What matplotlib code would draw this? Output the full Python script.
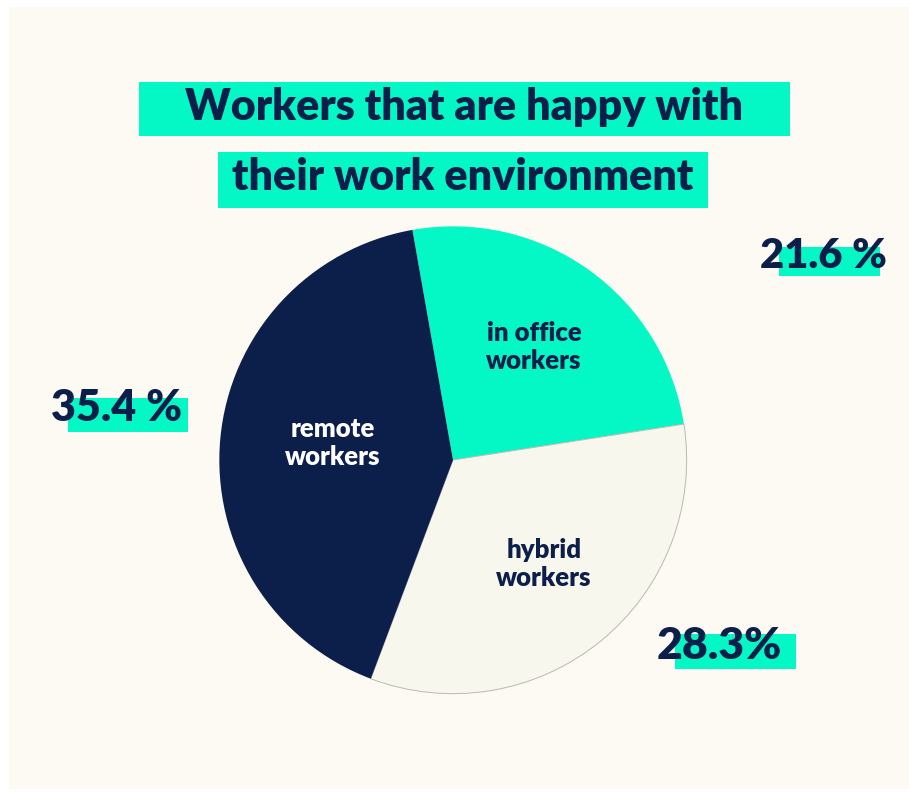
import matplotlib.pyplot as plt
from matplotlib.patches import Rectangle

# share of workers happy with their work environment
groups = ["in office\nworkers", "hybrid\nworkers", "remote\nworkers"]
shares = [21.6, 28.3, 35.4]
share_labels = ["21.6 %", "28.3%", "35.4 %"]

navy = "#0c1f4a"
mint = "#03f8c5"
ivory = "#f8f7ee"
cream = "#fdf9f3"

plt.rcParams["font.family"] = ["Lato", "DejaVu Sans"]

fig = plt.figure(figsize=(9.09, 7.92), dpi=100)
fig.patch.set_facecolor("white")


def pixel_axes(z):
    # full-figure axes in pixel units, origin top-left
    ax = fig.add_axes([0, 0, 1, 1], zorder=z)
    ax.set_xlim(0, 909)
    ax.set_ylim(792, 0)
    ax.axis("off")
    return ax


bg = pixel_axes(0)
bg.add_patch(Rectangle((9, 7), 900, 782, facecolor=cream, edgecolor="none", zorder=0))

# title with highlighter bars
bg.add_patch(Rectangle((139, 82), 651, 54, facecolor=mint, edgecolor="none", zorder=1))
bg.add_patch(Rectangle((218, 152), 490, 56, facecolor=mint, edgecolor="none", zorder=1))
bg.text(464, 107, "Workers that are happy with", ha="center", va="center",
        fontsize=31, fontweight="heavy", color=navy, zorder=2)
bg.text(463, 177, "their work environment", ha="center", va="center",
        fontsize=31, fontweight="heavy", color=navy, zorder=2)

# pie
cx, cy, r = 453, 460, 236
pax = fig.add_axes([(cx - r) / 909, (792 - cy - r) / 792, 2 * r / 909, 2 * r / 792], zorder=1)
wedges, _ = pax.pie(shares, colors=[mint, ivory, navy], startangle=100,
                    counterclock=False, radius=1,
                    wedgeprops=dict(linewidth=0))
wedges[1].set_edgecolor("#b9b9b4")
wedges[1].set_linewidth(0.7)
pax.set_xlim(-1.01, 1.01)
pax.set_ylim(-1.01, 1.01)
pax.set_aspect("equal")
pax.axis("off")

top = pixel_axes(2)
top.patch.set_alpha(0)

# labels inside the slices
inner_pos = [(534, 347), (544, 564), (333, 443)]
inner_col = [navy, navy, "white"]
for (x, y), txt, c in zip(inner_pos, groups, inner_col):
    top.text(x, y, txt, ha="center", va="center", fontsize=18.5, fontweight="heavy",
             color=c, linespacing=1.2)

# percentage callouts with a highlight under the lower part
callouts = [
    ((760, 256), (779, 247, 101, 29), 30),
    ((657, 646), (675, 634, 121, 35), 32),
    ((51, 408), (68, 398, 120, 34), 31),
]
for lab, ((tx, ty), (bx, by, bw, bh), fs) in zip(share_labels, callouts):
    bg.add_patch(Rectangle((bx, by), bw, bh, facecolor=mint, edgecolor="none", zorder=1))
    bg.text(tx, ty, lab, ha="left", va="center", fontsize=fs, fontweight="heavy",
            color=navy, zorder=2)

fig.savefig("out.png", dpi=100, facecolor=fig.get_facecolor())
